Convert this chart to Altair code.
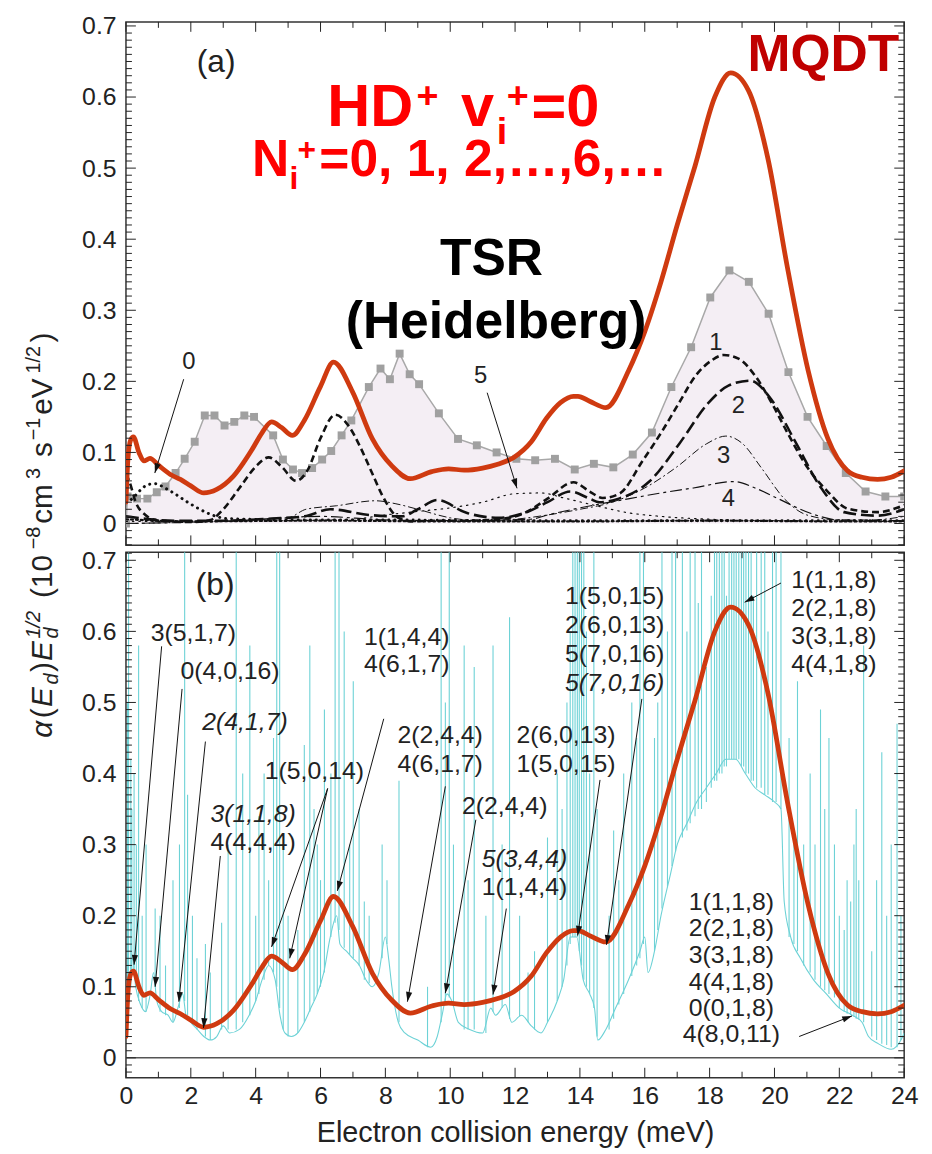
import math
import altair as alt
import pandas as pd

FONT = "Liberation Sans"
INK = "#222222"
RED = "#cf3a10"
CYAN = "#6dd2d6"
W, HA, HB = 785, 528, 530
XD = [0.0, 24.0]
YA = [-0.0307, 0.7057]
YB = [-0.0279, 0.7113]

# ---------------- data: MQDT (both panels) ----------------
mqdt_E = [0.0, 0.06, 0.14, 0.23, 0.4, 0.55, 0.74, 1.0, 1.37, 1.68, 2.0, 2.4, 2.8, 3.3, 3.9, 4.2,
          4.49, 4.8, 5.13, 5.5, 6.0, 6.4, 6.98, 7.6, 8.2, 8.77, 9.43, 9.95, 10.43, 11.0, 11.44,
          11.96, 12.5, 12.97, 13.4, 13.8, 13.94, 14.3, 14.8, 15.5, 16.0, 16.5, 17.0, 17.55,
          18.16, 18.65, 19.2, 19.8, 20.4, 21.04, 21.65, 22.26, 22.7, 23.18, 23.6, 24.0]
mqdt_v = [0.03, 0.09, 0.117, 0.122, 0.1, 0.088, 0.0915, 0.082, 0.069, 0.062, 0.053, 0.043, 0.048,
          0.066, 0.105, 0.128, 0.143, 0.135, 0.124, 0.145, 0.193, 0.227, 0.186, 0.119, 0.081,
          0.063, 0.073, 0.077, 0.075, 0.078, 0.083, 0.093, 0.115, 0.148, 0.17, 0.179, 0.179,
          0.172, 0.163, 0.215, 0.27, 0.34, 0.42, 0.503, 0.6, 0.634, 0.609, 0.513, 0.36, 0.215,
          0.119, 0.074, 0.065, 0.062, 0.065, 0.074]

# ---------------- data: TSR experiment (panel a) ----------------
tsr_E = [0.0, 0.05, 0.34, 0.66, 0.95, 1.22, 1.53, 1.81, 2.12, 2.43, 2.73, 3.04, 3.34, 3.65, 3.95,
         4.54, 4.84, 5.15, 5.43, 5.74, 6.05, 6.33, 6.65, 6.95, 7.49, 7.85, 8.14, 8.44, 8.75, 9.04,
         9.65, 10.24, 10.82, 11.43, 12.04, 12.62, 13.23, 13.84, 14.43, 15.03, 15.63, 16.22,
         16.82, 17.43, 18.02, 18.61, 19.21, 19.82, 20.43, 21.02, 21.61, 22.2, 22.81, 23.42, 24.0]
tsr_v = [0.0, 0.038, 0.035, 0.035, 0.044, 0.052, 0.071, 0.091, 0.115, 0.152, 0.152, 0.138, 0.143,
         0.152, 0.150, 0.124, 0.09, 0.076, 0.071, 0.078, 0.09, 0.102, 0.124, 0.145, 0.192, 0.218,
         0.203, 0.239, 0.21, 0.196, 0.155, 0.119, 0.11, 0.10, 0.091, 0.089, 0.091, 0.076, 0.084,
         0.079, 0.097, 0.128, 0.192, 0.248, 0.318, 0.356, 0.34, 0.295, 0.213, 0.15, 0.109,
         0.071, 0.045, 0.038, 0.038]

# ---------------- data: partial contributions N_i+ (panel a) ----------------
n0_E = [0.0, 0.2, 0.4, 0.7, 0.9, 1.2, 1.5, 1.9, 2.2, 2.6, 3.1, 3.8, 5.0, 8.0, 12.0, 16.0, 20.0, 24.0]
n0_v = [0.03, 0.035, 0.045, 0.055, 0.056, 0.05, 0.042, 0.03, 0.022, 0.013, 0.007, 0.006, 0.005,
        0.005, 0.004, 0.004, 0.004, 0.004]
n1_E = [0.0, 0.1, 0.3, 0.6, 1.0, 2.0, 2.6, 3.0, 3.5, 4.0, 4.4, 4.8, 5.25, 5.6, 6.0, 6.45, 6.9, 7.2,
        7.6, 7.9, 8.4, 8.8, 9.5, 10.5, 11.5, 12.3, 13.0, 13.8, 14.3, 14.7, 15.22, 15.93, 16.55,
        17.06, 17.57, 18.08, 18.43, 18.89, 19.4, 19.91, 20.42, 21.03, 21.64, 22.25, 23.17, 24.0]
n1_v = [0.07, 0.06, 0.03, 0.012, 0.004, 0.002, 0.005, 0.02, 0.05, 0.08, 0.093, 0.08, 0.06, 0.075,
        0.12, 0.153, 0.135, 0.11, 0.07, 0.04, 0.008, 0.003, 0.004, 0.004, 0.006, 0.015, 0.035,
        0.058, 0.045, 0.036, 0.042, 0.088, 0.131, 0.17, 0.208, 0.23, 0.237, 0.232, 0.208, 0.17,
        0.126, 0.078, 0.045, 0.021, 0.016, 0.026]
n2_E = [0.0, 1.5, 3.0, 4.5, 5.5, 6.3, 7.5, 8.5, 9.0, 9.6, 10.5, 11.5, 12.3, 13.0, 13.7, 14.3, 14.6,
        15.2, 16.14, 17.06, 17.97, 18.58, 19.25, 19.91, 20.62, 21.44, 22.15, 23.17, 24.0]
n2_v = [0.01, 0.004, 0.004, 0.007, 0.01, 0.02, 0.012, 0.01, 0.02, 0.033, 0.015, 0.008, 0.015, 0.03,
        0.045, 0.035, 0.03, 0.035, 0.059, 0.112, 0.17, 0.194, 0.201, 0.174, 0.117, 0.05, 0.016,
        0.011, 0.02]
n3_E = [0.0, 5.0, 5.55, 6.5, 7.69, 8.3, 9.0, 10.0, 11.0, 12.0, 13.0, 14.0, 15.0, 16.0, 17.0, 17.9,
        18.5, 19.0, 19.6, 20.3, 21.0, 22.0, 23.0, 24.0]
n3_v = [0.0, 0.008, 0.02, 0.025, 0.032, 0.028, 0.02, 0.008, 0.004, 0.006, 0.012, 0.02, 0.03, 0.05,
        0.08, 0.112, 0.123, 0.113, 0.078, 0.035, 0.012, 0.005, 0.005, 0.01]
n4_E = [0.0, 3.0, 6.0, 8.0, 10.0, 12.47, 13.0, 14.0, 15.53, 16.5, 17.5, 18.74, 19.4, 20.11, 21.13,
        22.0, 24.0]
n4_v = [0.0, 0.003, 0.01, 0.005, 0.004, 0.006, 0.012, 0.022, 0.035, 0.043, 0.05, 0.059, 0.05, 0.035,
        0.014, 0.005, 0.004]
n5_E = [0.0, 5.0, 7.0, 8.0, 9.0, 10.0, 11.0, 12.0, 12.8, 13.5, 14.5, 15.5, 16.5, 18.0, 20.0, 24.0]
n5_v = [0.003, 0.004, 0.006, 0.012, 0.017, 0.022, 0.03, 0.042, 0.043, 0.036, 0.025, 0.015, 0.01,
        0.006, 0.004, 0.003]
n6_E = [0.0, 2.0, 6.0, 10.0, 14.0, 18.0, 22.0, 24.0]
n6_v = [0.006, 0.003, 0.004, 0.003, 0.003, 0.004, 0.003, 0.003]

# ---------------- data: unconvoluted rate (panel b) ----------------
cyan_E = [0.0, 0.1, 0.2, 0.3, 0.45, 0.6, 0.75, 0.85, 0.95, 1.1, 1.3, 1.45, 1.6, 1.75, 1.85, 2.0,
          2.2, 2.4, 2.6, 2.8, 3.0, 3.2, 3.5, 3.8, 4.0, 4.2, 4.4, 4.6, 4.75, 4.9, 5.1, 5.3, 5.5,
          5.7, 5.9, 6.1, 6.3, 6.5, 6.6, 6.8, 7.0, 7.2, 7.4, 7.6, 7.8, 8.0, 8.1, 8.2, 8.4, 8.6,
          9.0, 9.4, 9.6, 9.75, 9.9, 10.05, 10.25, 10.6, 11.0, 11.25, 11.4, 11.7, 11.9, 12.2,
          12.5, 12.8, 13.0, 13.3, 13.5, 13.7, 13.9, 14.1, 14.3, 14.45, 14.55, 14.8, 15.1, 15.5,
          15.85, 16.0, 16.1, 16.3, 16.5, 16.8, 17.0, 17.3, 17.6, 17.9, 18.2, 18.5, 18.8, 19.1,
          19.4, 19.7, 20.0, 20.2, 20.3, 20.5, 20.8, 21.2, 21.6, 22.0, 22.4, 22.7, 22.9, 23.2,
          23.6, 23.9, 24.0]
cyan_v = [0.04, 0.10, 0.14, 0.10, 0.075, 0.065, 0.09, 0.12, 0.08, 0.065,
          0.06, 0.05, 0.07, 0.09, 0.06, 0.05, 0.04, 0.03, 0.025, 0.03,
          0.045, 0.035, 0.04, 0.06, 0.08, 0.11, 0.13, 0.11, 0.06, 0.035,
          0.03, 0.035, 0.05, 0.07, 0.09, 0.12, 0.17, 0.2, 0.16, 0.15,
          0.14, 0.13, 0.11, 0.10, 0.12, 0.17, 0.14, 0.10, 0.05, 0.035,
          0.025, 0.015, 0.03, 0.06, 0.09, 0.08, 0.05, 0.04, 0.035, 0.07,
          0.06, 0.075, 0.05, 0.06, 0.045, 0.035, 0.05, 0.08, 0.11, 0.17,
          0.17, 0.11, 0.09, 0.07, 0.025, 0.04, 0.07, 0.11, 0.15, 0.17,
          0.12, 0.15, 0.2, 0.26, 0.3, 0.33, 0.36, 0.38, 0.4, 0.42,
          0.42, 0.4, 0.38, 0.37, 0.36, 0.35, 0.22, 0.17, 0.14, 0.11,
          0.09, 0.07, 0.06, 0.05, 0.03, 0.02, 0.012, 0.025, 0.035]
# narrow resonances: (energy, foot, top)
spikes = [
    (0.05, 0.06, 0.50), (0.08, 0.08, 0.75), (0.15, 0.10, 0.42), (0.18, 0.12, 0.35),
    (0.25, 0.12, 0.40), (0.32, 0.10, 0.30), (0.39, 0.08, 0.58), (0.50, 0.07, 0.20),
    (0.62, 0.065, 0.30), (0.90, 0.10, 0.21), (1.05, 0.065, 0.20), (1.22, 0.06, 0.13),
    (1.45, 0.05, 0.25), (1.65, 0.07, 0.30), (1.81, 0.08, 0.75), (1.90, 0.06, 0.37),
    (2.05, 0.05, 0.20), (2.19, 0.04, 0.14), (2.45, 0.03, 0.16), (2.60, 0.025, 0.12),
    (2.95, 0.04, 0.19), (3.15, 0.04, 0.30), (3.40, 0.04, 0.75), (3.60, 0.05, 0.40),
    (3.82, 0.06, 0.58), (4.00, 0.08, 0.20), (4.10, 0.09, 0.34), (4.26, 0.11, 0.40),
    (4.40, 0.13, 0.25), (4.55, 0.12, 0.45), (4.65, 0.10, 0.75), (4.74, 0.07, 0.75),
    (4.85, 0.04, 0.30), (5.00, 0.03, 0.20), (5.30, 0.035, 0.18), (5.50, 0.05, 0.44),
    (5.67, 0.065, 0.58), (5.80, 0.08, 0.35), (5.90, 0.09, 0.30), (6.00, 0.10, 0.25),
    (6.12, 0.12, 0.49), (6.32, 0.17, 0.40), (6.45, 0.19, 0.75), (6.57, 0.18, 0.75),
    (6.73, 0.155, 0.60), (6.90, 0.145, 0.30), (7.01, 0.14, 0.53), (7.19, 0.13, 0.35),
    (7.35, 0.11, 0.22), (7.50, 0.105, 0.20), (7.90, 0.14, 0.30), (8.05, 0.16, 0.25),
    (8.42, 0.05, 0.39), (9.30, 0.015, 0.10), (9.72, 0.05, 0.75), (9.85, 0.08, 0.50),
    (9.97, 0.085, 0.75), (10.10, 0.075, 0.30), (10.43, 0.04, 0.58), (10.55, 0.04, 0.25),
    (10.74, 0.04, 0.55), (11.10, 0.035, 0.20), (11.32, 0.065, 0.58), (11.60, 0.07, 0.30),
    (11.83, 0.055, 0.62), (12.14, 0.058, 0.20), (12.40, 0.05, 0.12), (12.60, 0.04, 0.15),
    (13.00, 0.05, 0.31), (13.30, 0.08, 0.40), (13.45, 0.10, 0.35), (13.60, 0.13, 0.50),
    (13.70, 0.16, 0.60), (13.78, 0.17, 0.75), (13.85, 0.17, 0.75), (13.92, 0.17, 0.75),
    (13.98, 0.15, 0.75), (14.05, 0.13, 0.75), (14.12, 0.11, 0.75), (14.20, 0.10, 0.60),
    (14.30, 0.09, 0.40), (14.43, 0.07, 0.75), (14.53, 0.03, 0.35), (14.90, 0.04, 0.20),
    (15.04, 0.055, 0.32), (15.20, 0.075, 0.25), (15.35, 0.09, 0.40), (15.60, 0.115, 0.50),
    (15.75, 0.13, 0.45), (15.85, 0.14, 0.75), (15.96, 0.16, 0.75), (16.30, 0.15, 0.45),
    (16.40, 0.18, 0.50), (16.53, 0.21, 0.75), (16.70, 0.24, 0.60), (16.84, 0.27, 0.75),
    (16.95, 0.29, 0.75), (17.16, 0.31, 0.75), (17.30, 0.32, 0.60), (17.40, 0.33, 0.75),
    (17.55, 0.34, 0.75), (17.65, 0.35, 0.64), (17.75, 0.35, 0.75), (17.90, 0.36, 0.55),
    (18.05, 0.38, 0.65), (18.15, 0.39, 0.75), (18.22, 0.39, 0.75), (18.30, 0.40, 0.75),
    (18.38, 0.40, 0.75), (18.45, 0.41, 0.75), (18.52, 0.41, 0.65), (18.60, 0.42, 0.75),
    (18.68, 0.42, 0.75), (18.75, 0.42, 0.75), (18.82, 0.42, 0.75), (18.90, 0.42, 0.75),
    (18.98, 0.41, 0.75), (19.05, 0.41, 0.75), (19.12, 0.40, 0.75), (19.20, 0.40, 0.75),
    (19.28, 0.39, 0.75), (19.35, 0.39, 0.65), (19.45, 0.38, 0.75), (19.59, 0.38, 0.75),
    (19.70, 0.37, 0.75), (19.80, 0.37, 0.60), (19.94, 0.36, 0.75), (20.05, 0.36, 0.75),
    (20.20, 0.35, 0.75), (20.45, 0.17, 0.45), (20.60, 0.16, 0.30), (20.71, 0.15, 0.53),
    (20.90, 0.13, 0.30), (21.10, 0.12, 0.40), (21.25, 0.11, 0.30), (21.42, 0.10, 0.49),
    (21.55, 0.095, 0.35), (21.68, 0.09, 0.45), (21.85, 0.085, 0.30), (22.00, 0.07, 0.20),
    (22.15, 0.065, 0.18), (22.24, 0.062, 0.25), (22.35, 0.06, 0.22), (22.45, 0.058, 0.30),
    (22.52, 0.055, 0.35), (22.60, 0.054, 0.25), (22.75, 0.05, 0.58), (23.00, 0.03, 0.15),
    (23.15, 0.025, 0.25), (23.31, 0.02, 0.43), (23.46, 0.018, 0.20), (23.60, 0.015, 0.30),
    (23.78, 0.015, 0.47), (23.90, 0.025, 0.20)]

# ---------------- annotations ----------------
a_num_labels = [(1.94, 0.227, "0"), (10.94, 0.208, "5"), (18.19, 0.254, "1"),
                (18.89, 0.165, "2"), (18.43, 0.095, "3"), (18.58, 0.035, "4")]
a_arrows = [(1.78, 0.203, 0.89, 0.071), (11.14, 0.184, 12.06, 0.0495)]
a_bold = [("HD", 6.206, 0.5593, 60, "#ff0000"), ("+", 8.958, 0.584, 38, "#ff0000"),
          ("v", 10.334, 0.5593, 60, "#ff0000"), ("i", 11.435, 0.534, 38, "#ff0000"),
          ("+", 11.740, 0.584, 38, "#ff0000"), ("=0", 12.505, 0.5593, 60, "#ff0000"),
          ("N", 3.883, 0.4895, 52, "#ff0000"), ("i", 5.045, 0.470, 32, "#ff0000"),
          ("+", 5.289, 0.511, 32, "#ff0000"), ("=0, 1, 2,…,6,…", 5.962, 0.4895, 52, "#ff0000"),
          ("MQDT", 19.170, 0.636, 52, "#c00000"), ("TSR", 9.683, 0.350, 52, "#000000"),
          ("(Heidelberg)", 6.778, 0.261, 52, "#000000")]

b_labels = [(2.08, 0.597, "3(5,1,7)"), (3.21, 0.544, "0(4,0,16)"), (5.81, 0.403, "1(5,0,14)"),
            (3.92, 0.304, "4(4,4,4)"), (8.66, 0.592, "1(1,4,4)"), (8.66, 0.554, "4(6,1,7)"),
            (9.69, 0.454, "2(2,4,4)"), (9.69, 0.414, "4(6,1,7)"), (11.68, 0.354, "2(2,4,4)"),
            (12.29, 0.240, "1(1,4,4)"), (13.57, 0.454, "2(6,0,13)"), (13.57, 0.414, "1(5,0,15)"),
            (15.07, 0.650, "1(5,0,15)"), (15.07, 0.609, "2(6,0,13)"), (15.07, 0.568, "5(7,0,16)"),
            (21.83, 0.672, "1(1,1,8)"), (21.83, 0.633, "2(2,1,8)"), (21.83, 0.593, "3(3,1,8)"),
            (21.83, 0.554, "4(4,1,8)"),
            (18.67, 0.219, "1(1,1,8)"), (18.67, 0.182, "2(2,1,8)"), (18.67, 0.145, "3(3,1,8)"),
            (18.67, 0.107, "4(4,1,8)"), (18.67, 0.070, "0(0,1,8)"), (18.67, 0.033, "4(8,0,11)")]
b_labels_it = [(3.67, 0.472, "2(4,1,7)"), (3.92, 0.343, "3(1,1,8)"),
               (12.29, 0.279, "5(3,4,4)"), (15.07, 0.527, "5(7,0,16)")]
b_arrows = [(1.1, 0.579, 0.25, 0.131), (1.73, 0.519, 0.9, 0.100), (2.45, 0.445, 1.63, 0.079),
            (2.91, 0.284, 2.39, 0.042), (6.22, 0.379, 4.49, 0.156), (6.22, 0.379, 5.05, 0.140),
            (7.95, 0.477, 6.52, 0.235), (9.85, 0.382, 8.68, 0.079), (10.79, 0.335, 9.85, 0.091),
            (11.73, 0.210, 11.32, 0.089), (14.62, 0.391, 13.93, 0.172),
            (15.91, 0.505, 14.82, 0.159), (20.2, 0.668, 19.08, 0.641),
            (20.76, 0.030, 22.39, 0.059)]

# ---------------- scales / axes ----------------
sx = alt.Scale(domain=XD, nice=False, zero=False)
sya = alt.Scale(domain=YA, nice=False, zero=False)
syb = alt.Scale(domain=YB, nice=False, zero=False)
ytick_vals = [round(i * 0.1, 1) for i in range(8)]
ax_y = alt.Axis(values=ytick_vals, format=".1~f", ticks=False, domain=False, grid=False,
                labelFont=FONT, labelFontSize=25, labelColor=INK, labelPadding=10,
                labelFlush=False, labelOverlap=False, title=None)
ax_xb = alt.Axis(values=list(range(0, 25, 2)), format="d", ticks=False, domain=False, grid=False,
                 labelFont=FONT, labelFontSize=25, labelColor=INK, labelPadding=6,
                 labelFlush=False, labelOverlap=False,
                 title="Electron collision energy (meV)", titleFont=FONT, titleFontSize=29,
                 titleFontWeight="normal", titleColor=INK, titlePadding=10)

PA = {"xs": sx, "xa": None, "ys": sya, "ya": ax_y}
PB = {"xs": sx, "xa": ax_xb, "ys": syb, "ya": ax_y}


def XE(p, field="E"):
    return alt.X(field + ":Q", scale=p["xs"], axis=p["xa"])


def YE(p, field="v"):
    return alt.Y(field + ":Q", scale=p["ys"], axis=p["ya"])


def curve(Es, vs, p, color, width, dash=None, cap="butt", opacity=1.0):
    kw = dict(color=color, strokeWidth=width, interpolate="monotone", clip=True,
              strokeCap=cap, opacity=opacity)
    if dash:
        kw["strokeDash"] = dash
    return alt.Chart(pd.DataFrame({"E": Es, "v": vs})).mark_line(**kw).encode(x=XE(p), y=YE(p))


def tick_layers(p, H, ydom):
    out = []
    xM = pd.DataFrame({"E": [float(e) for e in range(0, 25, 2)]})
    xm = pd.DataFrame({"E": [float(e) for e in range(1, 24, 2)]})
    for df, L in ((xM, 10), (xm, 6)):
        out.append(alt.Chart(df).mark_rule(color=INK, strokeWidth=1).encode(
            x=XE(p), y=alt.value(0), y2=alt.value(L)))
        out.append(alt.Chart(df).mark_rule(color=INK, strokeWidth=1).encode(
            x=XE(p), y=alt.value(H), y2=alt.value(H - L)))
    lo = math.ceil(ydom[0] * 100 - 1e-9)
    hi = math.floor(ydom[1] * 100 + 1e-9)
    yM = pd.DataFrame({"v": ytick_vals})
    ym = pd.DataFrame({"v": [k / 100 for k in range(lo, hi + 1) if k % 10 != 0]})
    for df, L in ((yM, 10), (ym, 6)):
        out.append(alt.Chart(df).mark_rule(color=INK, strokeWidth=1).encode(
            y=YE(p), x=alt.value(0), x2=alt.value(L)))
        out.append(alt.Chart(df).mark_rule(color=INK, strokeWidth=1).encode(
            y=YE(p), x=alt.value(W), x2=alt.value(W - L)))
    return out


ARROW = "M0,0L-2.2,-0.7L-2.2,0.7Z"


def arrow_layers(rows, p, H, ydom):
    recs = []
    for e1, v1, e2, v2 in rows:
        dx = (e2 - e1) * W / (XD[1] - XD[0])
        dy = -(v2 - v1) * H / (ydom[1] - ydom[0])
        ang = math.degrees(math.atan2(dy, dx)) % 360
        recs.append({"E": e1, "v": v1, "E2": e2, "v2": v2, "ang": ang})
    df = pd.DataFrame(recs)
    rules = alt.Chart(df).mark_rule(color="#111111", strokeWidth=1).encode(
        x=XE(p), y=YE(p), x2="E2:Q", y2="v2:Q")
    heads = alt.Chart(df).mark_point(shape=ARROW, filled=True, size=80, color="#111111",
                                     opacity=1, strokeWidth=0).encode(
        x=XE(p, "E2"), y=YE(p, "v2"), angle=alt.Angle("ang:Q", scale=None))
    return [rules, heads]


# ---------------- panel (a) ----------------
la = []
tsr_df = pd.DataFrame({"E": tsr_E, "v": tsr_v, "z": [0.0] * len(tsr_E)})
la.append(alt.Chart(tsr_df).mark_area(color="#f4eef4", opacity=1, clip=True).encode(
    x=XE(PA), y=YE(PA), y2="z:Q"))
la.append(alt.Chart(tsr_df).mark_line(color="#a8a8a8", strokeWidth=1.5, clip=True).encode(
    x=XE(PA), y=YE(PA)))
la.append(alt.Chart(tsr_df).mark_point(shape="square", filled=True, size=64, color="#a0a0a0",
                                       opacity=1, clip=True).encode(x=XE(PA), y=YE(PA)))
la.append(curve(n6_E, n6_v, PA, "#111111", 2.2, [2, 3], "round"))
la.append(curve(n5_E, n5_v, PA, "#111111", 1.2, [1.5, 5], "round"))
la.append(curve(n4_E, n4_v, PA, "#111111", 1.2, [12, 4, 3, 4]))
la.append(curve(n3_E, n3_v, PA, "#111111", 1.0, [8, 3, 2, 3]))
la.append(curve(n2_E, n2_v, PA, "#111111", 2.6, [13, 5]))
la.append(curve(n1_E, n1_v, PA, "#111111", 2.6, [7, 4]))
la.append(curve(n0_E, n0_v, PA, "#111111", 3.0, [0.1, 6], "round"))
la.append(curve(mqdt_E, mqdt_v, PA, RED, 4.8, cap="round"))
la += tick_layers(PA, HA, YA)
la += arrow_layers(a_arrows, PA, HA, YA)
la.append(alt.Chart(pd.DataFrame(a_num_labels, columns=["E", "v", "t"])).mark_text(
    font=FONT, fontSize=24, color=INK, align="center", baseline="middle").encode(
    x=XE(PA), y=YE(PA), text="t:N"))
la.append(alt.Chart(pd.DataFrame([(2.78, 0.649, "(a)")], columns=["E", "v", "t"])).mark_text(
    font=FONT, fontSize=32, color=INK, align="center", baseline="middle").encode(
    x=XE(PA), y=YE(PA), text="t:N"))
la.append(alt.Chart(pd.DataFrame(a_bold, columns=["t", "E", "v", "fs", "c"])).mark_text(
    font=FONT, fontWeight="bold", align="left", baseline="alphabetic").encode(
    x=XE(PA), y=YE(PA), text="t:N", size=alt.Size("fs:Q", scale=None),
    color=alt.Color("c:N", scale=None)))

# rotated y-axis title built from pieces (pixel placement relative to panel a)
# (text, font size, style, shift, gap before [em], advance [em])
title_pieces = [
    ("α", 30, "italic", "base", 0.0, 0.578), ("(", 30, "normal", "base", 0.0, 0.333),
    ("E", 30, "italic", "base", 0.0, 0.667), ("d", 20, "italic", "sub", 0.0, 0.556),
    (")", 30, "normal", "base", 0.0, 0.333), ("E", 30, "italic", "base", 0.0, 0.667),
    ("d", 20, "italic", "sub", 0.0, 0.0), ("1/2", 20, "italic", "sup", 0.0, 1.39),
    ("(10", 30, "normal", "base", 0.278, 1.445), ("−8", 20, "normal", "sup", 0.0, 1.14),
    ("cm", 30, "normal", "base", 0.0, 1.333), ("3", 20, "normal", "sup", 0.0, 0.556),
    ("s", 30, "normal", "base", 0.278, 0.5), ("−1", 20, "normal", "sup", 0.0, 1.14),
    ("eV", 30, "normal", "base", 0.0, 1.223), ("1/2", 20, "normal", "sup", 0.0, 1.39),
    (")", 30, "normal", "base", 0.0, 0.333)]
TX = {"base": -75, "sub": -69, "sup": -87}
T_BOTTOM, T_TOP = 737 - 15, 327 - 15
natural = sum((g + a) * fs for (_, fs, _, _, g, a) in title_pieces)
kfit = (T_BOTTOM - T_TOP) / natural
ty = T_BOTTOM
for txt, fs, style, shift, gap, adv in title_pieces:
    ty -= gap * fs * kfit
    la.append(alt.Chart(pd.DataFrame({"t": [txt]})).mark_text(
        angle=270, align="left", baseline="alphabetic", font=FONT, fontSize=fs,
        fontStyle=style, color=INK).encode(
        x=alt.value(TX[shift]), y=alt.value(ty), text="t:N"))
    ty -= adv * fs * kfit

panel_a = alt.layer(*la).properties(width=W, height=HA)

# ---------------- panel (b) ----------------
spk_df = pd.DataFrame(spikes, columns=["E", "v", "v2"])
lb = []
lb.append(alt.Chart(spk_df).mark_rule(color=CYAN, strokeWidth=1.1, clip=True).encode(
    x=XE(PB), y=YE(PB), y2="v2:Q"))
lb.append(curve(cyan_E, cyan_v, PB, CYAN, 1.1, cap="butt"))
lb.append(alt.Chart(pd.DataFrame({"v": [0.0]})).mark_rule(color="#555555", strokeWidth=1.5).encode(
    y=YE(PB)))
lb.append(curve(mqdt_E, mqdt_v, PB, RED, 4.8, cap="round"))
lb += tick_layers(PB, HB, YB)
lb += arrow_layers(b_arrows, PB, HB, YB)
lb.append(alt.Chart(pd.DataFrame(b_labels, columns=["E", "v", "t"])).mark_text(
    font=FONT, fontSize=25, color=INK, align="center", baseline="middle").encode(
    x=XE(PB), y=YE(PB), text="t:N"))
lb.append(alt.Chart(pd.DataFrame(b_labels_it, columns=["E", "v", "t"])).mark_text(
    font=FONT, fontSize=25, fontStyle="italic", color=INK, align="center",
    baseline="middle").encode(x=XE(PB), y=YE(PB), text="t:N"))
lb.append(alt.Chart(pd.DataFrame([(2.75, 0.665, "(b)")], columns=["E", "v", "t"])).mark_text(
    font=FONT, fontSize=32, color=INK, align="center", baseline="middle").encode(
    x=XE(PB), y=YE(PB), text="t:N"))

panel_b = alt.layer(*lb).properties(width=W, height=HB)

chart = alt.vconcat(panel_a, panel_b, spacing=7, bounds="flush").properties(
    padding={"left": 15, "top": 0, "right": 5, "bottom": 5}
).configure_view(stroke="#333333", strokeWidth=1.5)

chart.save("out.html", embed_options={"renderer": "svg", "actions": False})
